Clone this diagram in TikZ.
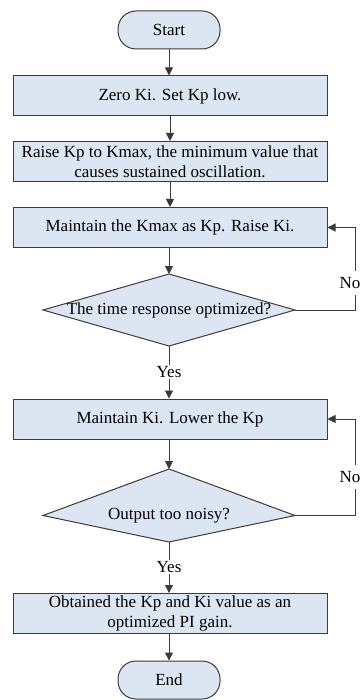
\documentclass[tikz,border=0pt]{standalone}
\usepackage{fontspec}
\setmainfont{Liberation Serif}
\usetikzlibrary{shapes.geometric,arrows.meta}
\definecolor{boxfill}{HTML}{DCE6F2}
\definecolor{edge}{HTML}{3A3A3A}
\tikzset{
  base/.style={draw=edge, line width=1pt, fill=boxfill, inner sep=0pt, font=\fontsize{17}{20.5}\selectfont, align=center},
  procbox/.style={base, rectangle, minimum width=314pt, minimum height=40pt},
  term/.style={base, rectangle, rounded corners=18pt, minimum width=102pt, minimum height=38pt},
  lbl/.style={font=\fontsize{17}{20.5}\selectfont, inner sep=1pt},
  conn/.style={draw=edge, line width=1pt},
  arr/.style={conn, -{Triangle[length=8pt,width=8pt]}}
}
\begin{document}
\begin{tikzpicture}[x=1pt,y=-1pt]
\useasboundingbox (0,0) rectangle (361,700);
\node[term] (start) at (169,30) {Start};
\node[procbox] (b1) at (170,96) {Zero Ki. Set Kp low.};
\node[procbox] (b2) at (170,161.5) {Raise Kp to Kmax, the minimum value that\\causes sustained oscillation.};
\node[procbox] (b3) at (170,227.5) {Maintain the Kmax as Kp. Raise Ki.};
\path[base] (43,310) -- (169,274) -- (295,310) -- (169,346) -- cycle;
\node[lbl] (d1) at (169,310) {The time response optimized?};
\coordinate (d1e) at (295,310);
\coordinate (d1s) at (169,346);
\coordinate (d1n) at (169,274);
\node[lbl] (y1) at (169,372) {Yes};
\node[procbox] (b4) at (170,419) {Maintain Ki. Lower the Kp};
\path[base] (43,515.5) -- (169,469) -- (295,515.5) -- (169,542) -- cycle;
\node[lbl] (d2) at (169,515.5) {Output too noisy?};
\coordinate (d2e) at (295,515.5);
\coordinate (d2s) at (169,542);
\coordinate (d2n) at (169,469);
\node[lbl] (y2) at (169,567) {Yes};
\node[procbox] (b5) at (170,613.5) {Obtained the Kp and Ki value as an\\optimized PI gain.};
\node[term] (end) at (169,680) {End};
\node[lbl, anchor=east, inner xsep=0.5pt] (n1) at (361,283) {No};
\node[lbl, anchor=east, inner xsep=0.5pt] (n2) at (361,477) {No};
\coordinate (r1) at (355,310);
\coordinate (r2) at (355,515.5);
\coordinate (t1) at (355,271);
\coordinate (u1) at (355,295);
\coordinate (t2) at (355,465);
\coordinate (u2) at (355,489);
\draw[arr] (start) -- (start|-b1.north);
\draw[arr] (b1) -- (b1.south|-b2.north);
\draw[arr] (b2) -- (b2.south|-b3.north);
\draw[arr] (b3.south-|d1n) -- (d1n);
\draw[conn] (d1s) -- (y1);
\draw[arr] (y1) -- (y1|-b4.north);
\draw[arr] (b4.south-|d2n) -- (d2n);
\draw[conn] (d2s) -- (y2);
\draw[arr] (y2) -- (y2|-b5.north);
\draw[arr] (b5.south-|end) -- (end);
\draw[conn] (d1e) -- (r1) -- (u1);
\draw[arr] (t1) |- (b3.east);
\draw[conn] (d2e) -- (r2) -- (u2);
\draw[arr] (t2) |- (b4.east);
\end{tikzpicture}
\end{document}
